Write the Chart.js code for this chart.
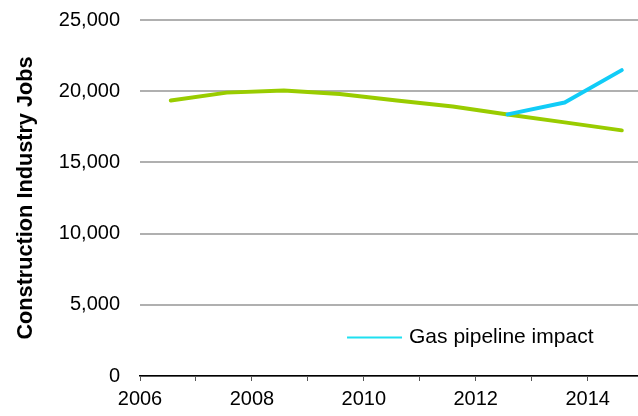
<!DOCTYPE html>
<html>
<head>
<meta charset="utf-8">
<script src="https://cdn.jsdelivr.net/npm/chart.js@4/dist/chart.umd.min.js"></script>
<style>
  html, body { margin: 0; padding: 0; background: #fff; }
  #wrap { width: 638px; height: 416px; }
</style>
</head>
<body>
<div id="wrap"><canvas id="myChart" width="638" height="416"></canvas></div>
<script>
// values
const years = [2006.55, 2007.55, 2008.57, 2009.57, 2010.59, 2011.59, 2012.57, 2013.59, 2014.61];
const baseline_jobs = [19350, 19900, 20050, 19800, 19350, 18930, 18370, 17810, 17250];
const pipeline_years = [2012.57, 2013.59, 2014.61];
const pipeline_jobs = [18370, 19210, 21480];
const y_ticks = [0, 5000, 10000, 15000, 20000, 25000];
const x_labels = [2006, 2008, 2010, 2012, 2014];

const font = "'Liberation Sans', Arial, sans-serif";

// legend drawn inside the plot, bottom right
const insideLegend = {
    id: 'insideLegend',
    afterDraw(chart) {
        let ds = chart.data.datasets[1];
        let ctx = chart.ctx;
        let x = chart.scales.x.getPixelForValue(2009.7);
        let y = chart.scales.y.getPixelForValue(2700);
        ctx.save();
        ctx.strokeStyle = "#1fe0f0";
        ctx.lineWidth = 2;
        ctx.beginPath();
        ctx.moveTo(x, y);
        ctx.lineTo(x + 55, y);
        ctx.stroke();
        ctx.fillStyle = "#000";
        ctx.font = "21px " + font;
        ctx.textBaseline = "middle";
        ctx.fillText(ds.label, x + 62, y);
        ctx.restore();
    }
};

new Chart("myChart", {
    type: "line",
    data: {
        datasets: [{
            label: 'Construction jobs',
            data: years.map((yr, i) => ({x: yr, y: baseline_jobs[i]})),
            borderColor: "#99cc00",
            borderWidth: 4,
            borderCapStyle: 'round',
            borderJoinStyle: 'round',
            pointRadius: 0,
            order: 2,
            fill: false
        }, {
            label: 'Gas pipeline impact',
            data: pipeline_years.map((yr, i) => ({x: yr, y: pipeline_jobs[i]})),
            borderColor: "#11ccf7",
            borderWidth: 4,
            borderCapStyle: 'round',
            borderJoinStyle: 'round',
            pointRadius: 0,
            order: 1,
            fill: false
        }]
    },
    options: {
        responsive: false,
        animation: false,
        layout: {padding: {top: 20, right: 0, left: 0, bottom: 0}},
        plugins: {
            legend: {display: false},
            tooltip: {enabled: false}
        },
        scales: {
            x: {
                type: 'linear',
                min: 2006,
                max: 2014.9,
                afterFit: scale => { scale.height = 40; },
                border: {color: "#000", width: 1.5},
                grid: {drawOnChartArea: false, drawTicks: true, tickLength: 5, color: "#555"},
                ticks: {
                    stepSize: 1,
                    includeBounds: false,
                    autoSkip: false,
                    maxRotation: 0,
                    padding: 6,
                    color: "#000",
                    font: {family: font, size: 20},
                    callback: v => x_labels.includes(v) ? String(v) : ''
                }
            },
            y: {
                min: 0,
                max: 25000,
                afterFit: scale => {
                    scale.width = 140;
                    scale.paddingTop = 12;
                    scale.paddingBottom = 12;
                },
                afterBuildTicks: scale => { scale.ticks = y_ticks.map(v => ({value: v})); },
                border: {display: false},
                grid: {color: "#b0b0b0", lineWidth: 2, drawTicks: false},
                ticks: {
                    padding: 20,
                    color: "#000",
                    font: {family: font, size: 20},
                    callback: v => v.toLocaleString('en-US')
                },
                title: {
                    display: true,
                    text: 'Construction Industry Jobs',
                    color: "#000",
                    font: {family: font, size: 21.7, weight: 'bold'},
                    padding: {top: 13, bottom: 0}
                }
            }
        }
    },
    plugins: [insideLegend]
});
</script>
</body>
</html>
